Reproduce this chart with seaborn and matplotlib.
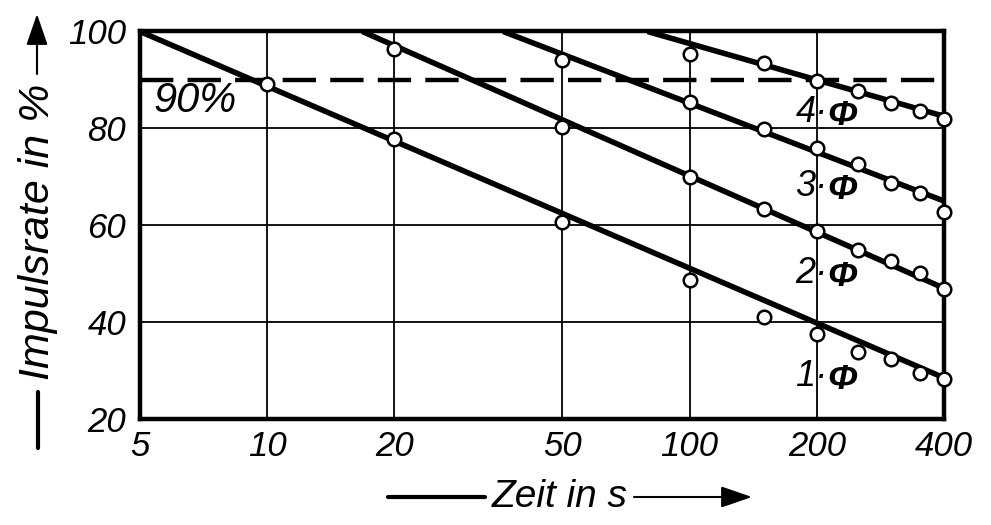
import numpy as np
import pandas as pd
import matplotlib
matplotlib.use("Agg")
import matplotlib.pyplot as plt
import seaborn as sns

# ---- data ----
series_names = ["1·Φ", "2·Φ", "3·Φ", "4·Φ"]

# fitted straight lines (semi-log): start at 100 %, end at t = 400 s
line_t_start = [5.0, 16.8, 36.2, 79.5]
line_t_end = [400.0, 400.0, 400.0, 400.0]
line_y_start = [100.0, 100.0, 100.0, 100.0]
line_y_end = [28.5, 47.0, 65.0, 82.5]

# measured points
t1 = [10, 20, 50, 100, 150, 200, 250, 300, 350, 400]
y1 = [89.2, 77.9, 60.7, 48.8, 41.0, 37.5, 33.9, 32.3, 29.6, 28.3]
t2 = [20, 50, 100, 150, 200, 250, 300, 350, 400]
y2 = [96.4, 80.3, 70.0, 63.4, 58.8, 54.8, 52.6, 50.2, 46.8]
t3 = [50, 100, 150, 200, 250, 300, 350, 400]
y3 = [94.1, 85.5, 79.9, 76.0, 72.7, 68.7, 66.7, 62.8]
t4 = [100, 150, 200, 250, 300, 350, 400]
y4 = [95.4, 93.5, 89.8, 87.7, 85.2, 83.6, 81.9]

label_t = [209, 209, 209, 209]
label_y = [28.7, 50.0, 68.0, 83.3]

x_ticks = [5, 10, 20, 50, 100, 200, 400]
x_ticklabels = ["5", "10", "20", "50", "100", "200", "400"]
y_ticks = [20, 40, 60, 80, 100]
y_ticklabels = ["20", "40", "60", "80", "100"]
threshold = 90

# ---- tables ----
lines_df = pd.DataFrame({
    "serie": np.repeat(series_names, 2),
    "t": np.ravel(np.column_stack([line_t_start, line_t_end])),
    "rate": np.ravel(np.column_stack([line_y_start, line_y_end])),
})
pts_df = pd.concat([
    pd.DataFrame({"serie": n, "t": t, "rate": y})
    for n, t, y in zip(series_names, [t1, t2, t3, t4], [y1, y2, y3, y4])
], ignore_index=True)

# ---- style ----
sns.set_theme(style="white")
FONT = ["Liberation Sans", "DejaVu Sans"]
plt.rcParams["font.family"] = FONT
plt.rcParams["font.style"] = "italic"

fig = plt.figure(figsize=(9.91, 5.25), dpi=100)
W, H = 991, 525
ax = fig.add_axes([140 / W, 1 - 419 / H, (944 - 140) / W, (419 - 31.5) / H])

ax.set_xscale("log")
ax.set_xlim(5, 400)
ax.set_ylim(20, 100)

# grid
ax.set_xticks(x_ticks)
ax.set_xticklabels(x_ticklabels)
ax.set_yticks(y_ticks)
ax.set_yticklabels(y_ticklabels)
ax.minorticks_off()
ax.grid(True, color="black", lw=1.3)
ax.tick_params(axis="both", length=0, labelsize=25, colors="black")
ax.tick_params(axis="x", pad=8)
ax.tick_params(axis="y", pad=10)
for lab in ax.get_xticklabels() + ax.get_yticklabels():
    lab.set_fontstyle("italic")
for sp in ax.spines.values():
    sp.set_color("black")
    sp.set_linewidth(3.2)
    sp.set_visible(True)

# threshold dashed line
ax.axhline(threshold, color="black", lw=3.2, ls=(0, (7.5, 3.2)), zorder=2)
ax.text(6.75, 85.6, f"{threshold}%", fontsize=30, ha="center", va="center",
        fontstyle="italic", color="black", family=FONT)

# fitted lines
for name in series_names:
    d = lines_df[lines_df["serie"] == name]
    sns.lineplot(data=d, x="t", y="rate", color="black", lw=4.0, ax=ax,
                 legend=False, zorder=3, solid_capstyle="butt")

# measured points
sns.scatterplot(data=pts_df, x="t", y="rate", s=95, color="white",
                edgecolor="black", linewidth=1.8, ax=ax, legend=False,
                zorder=5, clip_on=False)

# series labels: "n·" then a bold Φ
for name, lt, ly in zip(series_names, label_t, label_y):
    num, phi = name.split("·")
    ax.annotate(num + "·", xy=(lt, ly), xytext=(2, 0), textcoords="offset points",
                fontsize=26, ha="right", va="center", fontstyle="italic",
                color="black", family=FONT, zorder=6)
    ax.annotate(phi, xy=(lt, ly), xytext=(2, -2), textcoords="offset points",
                fontsize=26, ha="left", va="center", fontstyle="italic",
                fontweight="bold", color="black", family=FONT, zorder=6)

ax.set_xlabel("")
ax.set_ylabel("")

# ---- axis titles with arrows (figure pixel coordinates) ----
def fx(px):
    return px / W

def fy(py):
    return 1 - py / H

# x title
fig.text(fx(560), fy(497), "Zeit in s", fontsize=28, ha="center", va="center",
         fontstyle="italic", color="black", family=FONT)
fig.add_artist(plt.Line2D([fx(388), fx(485)], [fy(497), fy(497)],
                          color="black", lw=3.0, transform=fig.transFigure))
ax.annotate("", xy=(fx(752), fy(497)), xytext=(fx(634), fy(497)),
            xycoords="figure fraction", textcoords="figure fraction",
            arrowprops=dict(arrowstyle="-|>,head_length=1.6,head_width=0.55",
                            color="black", lw=1.5, shrinkA=0, shrinkB=0))

# y title
fig.text(fx(38), fy(232), "Impulsrate in %", fontsize=31, rotation=90,
         ha="center", va="center", fontstyle="italic", color="black", family=FONT)
fig.add_artist(plt.Line2D([fx(38), fx(38)], [fy(448), fy(392)],
                          color="black", lw=3.0, transform=fig.transFigure))
ax.annotate("", xy=(fx(37), fy(14)), xytext=(fx(37), fy(74)),
            xycoords="figure fraction", textcoords="figure fraction",
            arrowprops=dict(arrowstyle="-|>,head_length=1.6,head_width=0.55",
                            color="black", lw=1.5, shrinkA=0, shrinkB=0))

fig.savefig("out.png", dpi=100, facecolor="white")
